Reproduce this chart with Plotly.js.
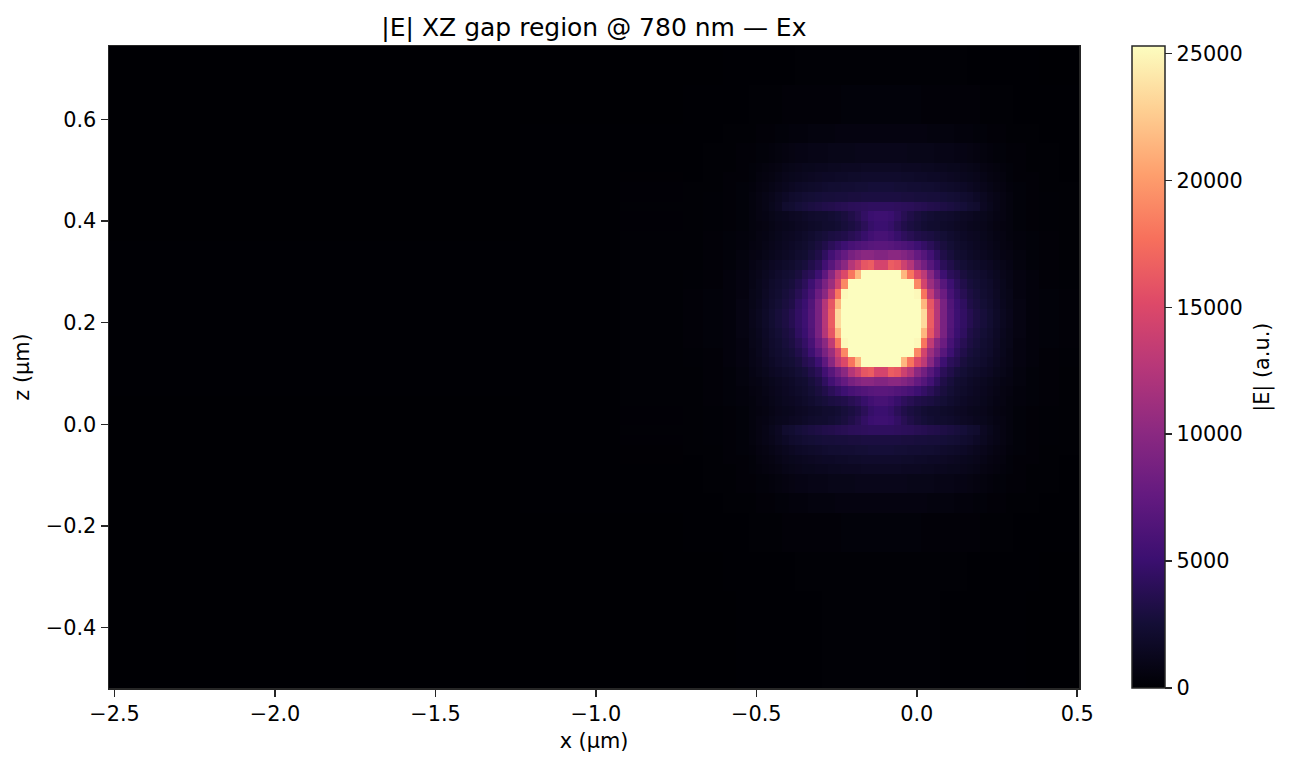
<!DOCTYPE html>
<html>
<head>
<meta charset="utf-8">
<script src="https://cdn.plot.ly/plotly-3.0.1.min.js"></script>
<style>html,body{margin:0;padding:0;background:#fff}#chart{width:1290px;height:767px}</style>
</head>
<body>
<div id="chart"></div>
<script>
var xEdges = [-2.5174,-1.236,-0.925,-0.7283,-0.6666,-0.6049,-0.5638,-0.5227,-0.5021,-0.4816,-0.4610,-0.4405,-0.4199,-0.3993,-0.3788,-0.3582,-0.3377,-0.3171,-0.2965,-0.2760,-0.2554,-0.2349,-0.2143,-0.1937,-0.1732,-0.1526,-0.1321,-0.1115,-0.0909,-0.0703,-0.0498,-0.0292,-0.0087,0.0119,0.0324,0.0530,0.0735,0.0941,0.1147,0.1352,0.1558,0.1763,0.1969,0.2175,0.2380,0.2586,0.2791,0.2997,0.3408,0.3819,0.4436,0.5056];
var zEdges = [0.7444,0.6678,0.5912,0.5529,0.5146,0.4955,0.4764,0.4572,0.4381,0.4189,0.3998,0.3807,0.3615,0.3424,0.3232,0.3041,0.2850,0.2658,0.2467,0.2275,0.2084,0.1893,0.1701,0.1510,0.1318,0.1127,0.0936,0.0744,0.0553,0.0361,0.0170,-0.0021,-0.0213,-0.0404,-0.0596,-0.0787,-0.0978,-0.1361,-0.1744,-0.2510,-0.3276,-0.5189];
// |E| in hundreds, top row first, left column first
var fieldHundreds = [
[.1,.1,.1,.2,.2,.3,.3, .5,.5,.5,.5,.5,.5,.5,1,1,1,1,1,1,1,1,1,1,1,1,1, 1,1,1,1,1,1,1,1,1,1,1,1,1,.5,.5,.5,.5,.5,.5,.5, .3,.3,.2,.2],
[.1,.2,.2,.3,.5,.5,.5, 1,1,1,1,1,2,2,2,2,2,2,2,2,2,3,3,3,3,3,3, 3,3,3,3,3,3,2,2,2,2,2,2,2,2,2,1,1,1,1,1, .5,.5,.5,.3],
[.2,.3,.4,.5,.5,1,1, 1,2,2,2,3,3,4,4,4,5,5,5,5,6,6,6,6,6,6,6, 6,6,6,6,6,6,6,5,5,5,5,4,4,4,3,3,2,2,2,1, 1,1,.5,.5],
[.2,.3,.5,.5,1,1,2, 2,3,3,4,5,6,7,8,8,9,9,9,10,10,10,10,11,11,11,11, 11,11,11,11,10,10,10,10,9,9,9,8,8,7,6,5,4,3,3,2, 2,1,1,.5],
[.2,.4,.6,.5,1,1,2, 3,4,5,6,7,9,10,11,12,12,13,13,14,14,15,15,15,16,16,16, 16,16,16,15,15,15,14,14,13,13,12,12,11,10,9,7,6,5,4,3, 2,1,1,.5],
[.2,.4,.7,.5,1,2,2, 3,5,6,7,9,11,12,13,14,15,16,17,17,18,18,19,19,20,20,20, 20,20,20,19,19,18,18,17,17,16,15,14,13,12,11,9,7,6,5,3, 2,2,1,.5],
[.2,.5,.8,1,1,2,3, 4,6,7,9,11,13,15,17,18,19,20,22,23,23,24,24,25,25,26,26, 26,26,25,25,24,24,23,23,22,20,19,18,17,15,13,11,9,7,6,4, 3,2,1,1],
[.2,.5,.8,1,1.5,2,3, 5,7,9,11,14,17,20,22,24,25,26,27,27,28,28,29,29,30,30,30, 30,30,30,29,29,28,28,27,27,26,25,24,22,20,17,14,11,9,7,5, 3,2,1.5,1],
[.2,.5,1,1,1.5,2,3, 5,7,9,12,15,21,23,26,28,30,32,34,35,37,38,40,41,42,43,43, 43,43,42,41,40,38,37,35,34,32,30,28,26,23,21,15,12,9,7,5, 3,2,1.5,1],
[.2,.5,.8,1,1.5,2,3, 5,7,8,10,12,13,15,16,18,20,21,22,24,26,29,33,38,45,50,52, 52,50,45,38,33,29,26,24,22,21,20,18,16,15,13,12,10,8,7,5, 3,2,1.5,1],
[.2,.5,.8,1,1.5,2,3, 5,6,7,9,11,12,13,15,16,18,19,21,22,24,27,30,34,40,47,50, 50,47,40,34,30,27,24,22,21,19,18,16,15,13,12,11,9,7,6,5, 3,2,1.5,1],
[.2,.5,1,1,2,3,4, 5,7,8,10,12,14,15,17,19,22,25,27,30,32,34,38,42,48,54,58, 58,54,48,42,38,34,32,30,27,25,22,19,17,15,14,12,10,8,7,5, 4,3,2,1],
[.3,.5,1,1,2,3,4, 6,7,9,11,13,15,17,19,21,25,29,34,40,46,52,58,62,65,68,70, 70,68,65,62,58,52,46,40,34,29,25,21,19,17,15,13,11,9,7,6, 4,3,2,1],
[.3,.5,1,1,2,3,5, 7,8,10,12,14,16,18,21,23,28,33,43,55,66,76,88,95,100,100,95, 95,100,100,95,88,76,66,55,43,33,28,23,21,18,16,14,12,10,8,7, 5,3,2,1],
[.3,.5,1,1,2,3,5, 8,10,12,15,17,19,21,25,28,34,40,54,68,85,100,125,140,160,165,145, 145,165,160,140,125,100,85,68,54,40,34,28,25,21,19,17,15,12,10,8, 5,3,2,1],
[.3,.5,1,1.5,2,4,6, 9,11,14,17,20,23,25,29,36,41,52,72,98,130,150,180,215,300,300,300, 300,300,300,215,180,150,130,98,72,52,41,36,29,25,23,20,17,14,11,9, 6,4,2,1.5],
[.3,.5,1,1.5,2,4,6, 9,12,15,19,22,25,28,34,41,52,68,89,110,144,190,300,300,300,300,300, 300,300,300,300,300,190,144,110,89,68,52,41,34,28,25,22,19,15,12,9, 6,4,2,1.5],
[.3,.5,1,2,3,4,6, 10,12,16,20,23,27,31,38,46,58,80,100,132,180,250,300,300,300,300,300, 300,300,300,300,300,250,180,132,100,80,58,46,38,31,27,23,20,16,12,10, 6,4,3,2],
[.3,.5,1,2,3,4,7, 10,13,17,21,25,29,33,43,50,64,89,125,160,215,300,300,300,300,300,300, 300,300,300,300,300,300,215,160,125,89,64,50,43,33,29,25,21,17,13,10, 7,4,3,2],
[.3,.5,1,2,3,4,7, 11,14,18,23,27,31,37,45,52,66,89,126,165,233,300,300,300,300,300,300, 300,300,300,300,300,300,233,165,126,89,66,52,45,37,31,27,23,18,14,11, 7,4,3,2],
[.3,.5,1,2,3,4,7, 11,14,18,23,27,31,37,45,52,66,89,126,165,233,300,300,300,300,300,300, 300,300,300,300,300,300,233,165,126,89,66,52,45,37,31,27,23,18,14,11, 7,4,3,2],
[.3,.5,1,2,3,4,7, 10,13,17,21,25,29,33,43,50,64,89,125,160,215,300,300,300,300,300,300, 300,300,300,300,300,300,215,160,125,89,64,50,43,33,29,25,21,17,13,10, 7,4,3,2],
[.3,.5,1,2,3,4,6, 10,12,16,20,23,27,31,38,46,58,80,100,132,180,250,300,300,300,300,300, 300,300,300,300,300,250,180,132,100,80,58,46,38,31,27,23,20,16,12,10, 6,4,3,2],
[.3,.5,1,1.5,2,4,6, 9,12,15,19,22,25,28,34,41,52,68,89,110,144,190,300,300,300,300,300, 300,300,300,300,300,190,144,110,89,68,52,41,34,28,25,22,19,15,12,9, 6,4,2,1.5],
[.3,.5,1,1.5,2,4,6, 9,11,14,17,20,23,25,29,36,41,52,72,98,130,150,180,215,300,300,300, 300,300,300,215,180,150,130,98,72,52,41,36,29,25,23,20,17,14,11,9, 6,4,2,1.5],
[.3,.5,1,1,2,3,5, 8,10,12,15,17,19,21,25,28,34,40,54,68,85,100,125,140,160,165,145, 145,165,160,140,125,100,85,68,54,40,34,28,25,21,19,17,15,12,10,8, 5,3,2,1],
[.3,.5,1,1,2,3,5, 7,8,10,12,14,16,18,21,23,28,33,43,55,66,76,88,95,100,100,95, 95,100,100,95,88,76,66,55,43,33,28,23,21,18,16,14,12,10,8,7, 5,3,2,1],
[.3,.5,1,1,2,3,4, 6,7,9,11,13,15,17,19,21,25,29,34,40,46,52,58,62,65,68,70, 70,68,65,62,58,52,46,40,34,29,25,21,19,17,15,13,11,9,7,6, 4,3,2,1],
[.2,.5,1,1,2,3,4, 5,7,8,10,12,14,15,17,19,22,25,27,30,32,34,38,42,48,54,58, 58,54,48,42,38,34,32,30,27,25,22,19,17,15,14,12,10,8,7,5, 4,3,2,1],
[.2,.5,.8,1,1.5,2,3, 5,6,7,9,11,12,13,15,16,18,19,21,22,24,27,30,34,40,47,50, 50,47,40,34,30,27,24,22,21,19,18,16,15,13,12,11,9,7,6,5, 3,2,1.5,1],
[.2,.5,.8,1,1.5,2,3, 5,7,8,10,12,13,15,16,18,20,21,22,24,26,29,33,38,45,50,52, 52,50,45,38,33,29,26,24,22,21,20,18,16,15,13,12,10,8,7,5, 3,2,1.5,1],
[.2,.5,1,1,1.5,2,3, 5,7,9,12,15,21,23,26,28,30,32,34,35,37,38,40,41,42,43,43, 43,43,42,41,40,38,37,35,34,32,30,28,26,23,21,15,12,9,7,5, 3,2,1.5,1],
[.2,.5,.8,1,1.5,2,3, 5,7,9,11,14,17,20,22,24,25,26,27,27,28,28,29,29,30,30,30, 30,30,30,29,29,28,28,27,27,26,25,24,22,20,17,14,11,9,7,5, 3,2,1.5,1],
[.2,.5,.7,1,1,2,3, 4,6,7,9,11,13,15,17,18,19,20,22,23,23,24,24,25,25,26,26, 26,26,25,25,24,24,23,23,22,20,19,18,17,15,13,11,9,7,6,4, 3,2,1,1],
[.2,.4,.7,.5,1,2,2, 3,5,6,7,9,11,12,13,14,15,16,17,17,18,18,19,19,20,20,20, 20,20,20,19,19,18,18,17,17,16,15,14,13,12,11,9,7,6,5,3, 2,2,1,.5],
[.2,.4,.6,.5,1,1,2, 3,4,5,6,7,9,10,11,12,12,13,13,14,14,15,15,15,16,16,16, 16,16,16,15,15,15,14,14,13,13,12,12,11,10,9,7,6,5,4,3, 2,1,1,.5],
[.2,.3,.5,.5,1,1,2, 2,3,3,4,5,6,7,8,8,9,9,9,10,10,10,10,11,11,11,11, 11,11,11,11,10,10,10,10,9,9,9,8,8,7,6,5,4,3,3,2, 2,1,1,.5],
[.2,.3,.4,.5,.5,1,1, 1,2,2,2,3,3,4,4,4,5,5,5,5,6,6,6,6,6,6,6, 6,6,6,6,6,6,6,5,5,5,5,4,4,4,3,3,2,2,2,1, 1,1,.5,.5],
[.1,.2,.2,.3,.5,.5,.5, 1,1,1,1,1,2,2,2,2,2,2,2,2,2,3,3,3,3,3,3, 3,3,3,3,3,3,2,2,2,2,2,2,2,2,2,1,1,1,1,1, .5,.5,.5,.3],
[.1,.1,.1,.2,.2,.3,.3, .5,.5,.5,.5,.5,.5,.5,1,1,1,1,1,1,1,1,1,1,1,1,1, 1,1,1,1,1,1,1,1,1,1,1,1,1,.5,.5,.5,.5,.5,.5,.5, .3,.3,.2,.2],
[.1,.1,.1,.2,.2,.2,.3, .3,.3,.5,.5,.5,.5,.5,.5,.5,.5,.5,1,1,1,1,1,1,1,1,1, 1,1,1,1,1,1,1,1,1,.5,.5,.5,.5,.5,.5,.5,.5,.5,.3,.3, .3,.2,.2,.2]
];
var xTicks = [-2.5,-2,-1.5,-1,-0.5,0,0.5];
var zTicks = [-0.4,-0.2,0,0.2,0.4,0.6];
var barTicks = [0,5000,10000,15000,20000,25000];
var barMax = 25295;
var magmaStops = ['#000004','#140e36','#3b0f70','#641a80','#8c2981','#b73779','#de4968','#f7705c','#fe9f6d','#fecf92','#fcfdbf'];
var titleText = '|E| XZ gap region @ 780 nm — Ex';
var xLabel = 'x (µm)';
var zLabel = 'z (µm)';
var barLabel = '|E| (a.u.)';

var ink = '#262626';
var FONT = '"DejaVu Sans", sans-serif';
var rows = fieldHundreds.map(function (r) { return r.map(function (v) { return v * 100; }); });
var scale = magmaStops.map(function (c, i) { return [i / (magmaStops.length - 1), c]; });
var fmt = function (v) { return v < 0 ? '−' + Math.abs(v).toFixed(1) : v.toFixed(1); };
var axisCommon = {
  showgrid: false, zeroline: false, showline: true, mirror: true,
  linecolor: ink, linewidth: 1.5, ticks: 'outside', ticklen: 7, tickwidth: 1.5, tickcolor: ink,
  tickfont: { family: FONT, size: 20.83, color: '#000' }, tickmode: 'array'
};
var trace = {
  type: 'heatmap', x: xEdges, y: zEdges, z: rows, zmin: 0, zmax: barMax, zsmooth: false,
  colorscale: scale, hoverinfo: 'skip',
  colorbar: {
    x: 1.0551, xanchor: 'left', xpad: 0, y: 0.5, yanchor: 'middle', ypad: 0, len: 1, lenmode: 'fraction',
    thickness: 33, thicknessmode: 'pixels', outlinecolor: ink, outlinewidth: 1.5,
    ticks: 'outside', ticklen: 7, tickwidth: 1.5, tickcolor: ink,
    tickmode: 'array', tickvals: barTicks, ticktext: barTicks.map(String),
    tickfont: { family: FONT, size: 20.83, color: '#000' }
  }
};
var layout = {
  width: 1290, height: 767, autosize: false,
  paper_bgcolor: '#fff', plot_bgcolor: '#000',
  margin: { l: 108.5, r: 210.5, t: 45.5, b: 78.5, pad: 0 },
  title: { text: titleText, x: 0.4604, xanchor: 'center', y: 0.9648, yanchor: 'middle', font: { family: FONT, size: 25, color: '#000' } },
  xaxis: Object.assign({}, axisCommon, { range: [-2.5174, 0.5056], tickvals: xTicks, ticktext: xTicks.map(fmt),
    title: { text: xLabel, standoff: 8, font: { family: FONT, size: 20.83, color: '#000' } } }),
  yaxis: Object.assign({}, axisCommon, { range: [-0.5189, 0.7444], tickvals: zTicks, ticktext: zTicks.map(fmt),
    title: { text: zLabel, standoff: 10, font: { family: FONT, size: 20.83, color: '#000' } } }),
  annotations: [{ xref: 'paper', yref: 'paper', x: 1.1885, y: 0.5, text: barLabel, showarrow: false, textangle: -90, xanchor: 'center', yanchor: 'middle', font: { family: FONT, size: 20.83, color: '#000' } }]
};
Plotly.newPlot('chart', [trace], layout, { displayModeBar: false, staticPlot: true });
</script>
</body>
</html>
